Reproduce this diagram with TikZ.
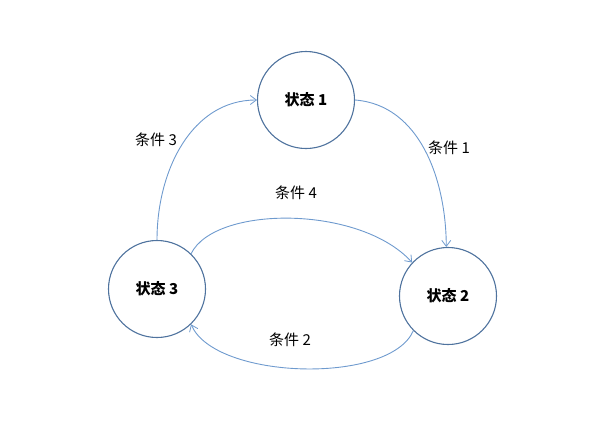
\documentclass[tikz,border=0pt]{standalone}
\usepackage{fontspec}
\newfontfamily\cjk{Noto Sans CJK SC}
\usetikzlibrary{arrows.meta}
\definecolor{circ}{HTML}{4F739E}
\definecolor{arr}{HTML}{6E9ACE}
\tikzset{
  state/.style={circle, draw=circ, line width=1.1pt, minimum size=97pt, inner sep=0pt, font=\cjk\bfseries\fontsize{15}{17}\selectfont},
  trans/.style={draw=arr, line width=0.9pt, -{Straight Barb[length=6pt,width=9pt,line width=0.8pt]}},
  lbl/.style={font=\cjk\fontsize{15}{17}\selectfont, inner sep=0pt}
}
\begin{document}
\begin{tikzpicture}[x=1pt,y=-1pt]
\useasboundingbox (0,0) rectangle (593,424);
\node[state] (s1) at (306,100) {状态 1};
\node[state] (s2) at (448,296) {状态 2};
\node[state] (s3) at (157,289) {状态 3};
\draw[trans] (s1.0) .. controls (420,105) and (446,180) .. (s2.92);
\draw[trans] (s3.north) .. controls (157,170) and (192,100) .. (s1.west);
\draw[trans] (s3.46) .. controls (215,205) and (360,205) .. (s2.137);
\draw[trans] (s2.225) .. controls (390,385) and (215,380) .. (s3.314);
\node[lbl] (l1) at (449,148) {条件 1};
\node[lbl] (l3) at (156,140) {条件 3};
\node[lbl] (l4) at (296,193) {条件 4};
\node[lbl] (l2) at (290,340) {条件 2};
\end{tikzpicture}
\end{document}
